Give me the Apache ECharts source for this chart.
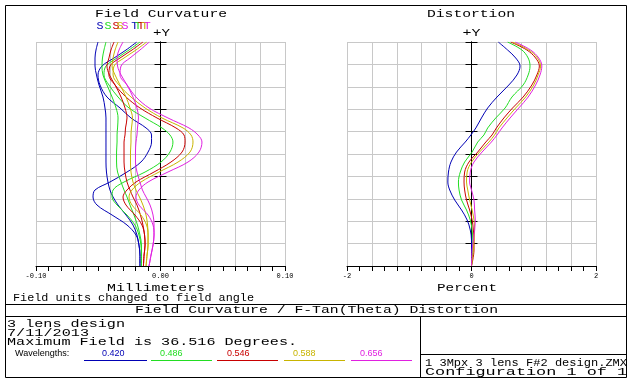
<!DOCTYPE html>
<html><head><meta charset="utf-8">
<script src="https://cdn.jsdelivr.net/npm/echarts@6/dist/echarts.min.js"></script>
<style>html,body{margin:0;padding:0;background:#fff}#c{width:638px;height:386px}</style>
</head><body><div id="c"></div>
<script>
// ---------------- data ----------------
const WAVELENGTHS = ['0.420', '0.486', '0.546', '0.588', '0.656'];
const COLORS = ['#0000b4', '#22dd22', '#c80000', '#c8b400', '#e020e0'];
const MAX_FIELD = 36.516; // degrees

const FC_X_TICKS = [-0.10, 0.00, 0.10];
const DIST_X_TICKS = [-2, 0, 2];

// field angle (deg) samples for the field curvature curves (top -> bottom)
const FC_FIELD = [36.516, 35.21, 33.91, 32.60, 31.14, 29.51, 27.55, 25.76, 24.13, 22.50, 21.36, 20.21, 18.58, 16.95, 15.32, 13.69, 12.39, 11.25, 9.94, 8.31, 6.68, 5.05, 3.42, 1.79, 0];
// sagittal / tangential focus shift (mm)
const SAG_420 = [-0.0502,-0.0518,-0.0526,-0.0526,-0.0514,-0.0494,-0.0462,-0.0446,-0.0438,-0.0438,-0.0438,-0.0438,-0.0438,-0.0438,-0.0434,-0.0422,-0.0406,-0.0381,-0.0341,-0.0277,-0.0221,-0.0189,-0.0173,-0.0165,-0.0165];
const TAN_420 = [-0.0191,-0.0277,-0.0373,-0.0470,-0.0502,-0.0486,-0.0430,-0.0325,-0.0237,-0.0116,-0.0072,-0.0072,-0.0100,-0.0157,-0.0269,-0.0406,-0.0526,-0.0542,-0.0510,-0.0389,-0.0269,-0.0197,-0.0173,-0.0165,-0.0165];
const SAG_486 = [-0.0438,-0.0454,-0.0466,-0.0470,-0.0462,-0.0430,-0.0389,-0.0357,-0.0341,-0.0345,-0.0349,-0.0349,-0.0353,-0.0353,-0.0345,-0.0317,-0.0293,-0.0269,-0.0245,-0.0213,-0.0185,-0.0165,-0.0153,-0.0153,-0.0153];
const TAN_486 = [-0.0165,-0.0253,-0.0349,-0.0438,-0.0454,-0.0414,-0.0341,-0.0253,-0.0124,0.0012,0.0076,0.0100,0.0076,0.0004,-0.0124,-0.0293,-0.0381,-0.0389,-0.0349,-0.0269,-0.0205,-0.0173,-0.0157,-0.0153,-0.0153];
const SAG_546 = [-0.0373,-0.0398,-0.0414,-0.0430,-0.0410,-0.0365,-0.0317,-0.0285,-0.0269,-0.0281,-0.0285,-0.0293,-0.0293,-0.0293,-0.0285,-0.0269,-0.0245,-0.0221,-0.0189,-0.0161,-0.0141,-0.0128,-0.0124,-0.0132,-0.0137];
const TAN_546 = [-0.0141,-0.0229,-0.0325,-0.0406,-0.0414,-0.0365,-0.0277,-0.0165,-0.0028,0.0124,0.0189,0.0197,0.0173,0.0084,-0.0052,-0.0197,-0.0269,-0.0301,-0.0277,-0.0205,-0.0149,-0.0128,-0.0124,-0.0132,-0.0137];
const SAG_588 = [-0.0341,-0.0365,-0.0381,-0.0389,-0.0365,-0.0325,-0.0277,-0.0245,-0.0225,-0.0233,-0.0237,-0.0237,-0.0241,-0.0241,-0.0237,-0.0221,-0.0197,-0.0169,-0.0141,-0.0116,-0.0104,-0.0100,-0.0100,-0.0108,-0.0116];
const TAN_588 = [-0.0111,-0.0197,-0.0293,-0.0373,-0.0381,-0.0333,-0.0237,-0.0124,0.0012,0.0181,0.0245,0.0261,0.0237,0.0141,-0.0012,-0.0157,-0.0229,-0.0253,-0.0229,-0.0157,-0.0112,-0.0100,-0.0100,-0.0108,-0.0116];
const SAG_656 = [-0.0301,-0.0333,-0.0349,-0.0345,-0.0317,-0.0269,-0.0221,-0.0189,-0.0177,-0.0185,-0.0189,-0.0197,-0.0201,-0.0201,-0.0189,-0.0165,-0.0145,-0.0116,-0.0084,-0.0060,-0.0052,-0.0052,-0.0060,-0.0076,-0.0092];
const TAN_656 = [-0.0090,-0.0165,-0.0245,-0.0317,-0.0325,-0.0269,-0.0197,-0.0092,0.0060,0.0229,0.0301,0.0333,0.0309,0.0221,0.0060,-0.0100,-0.0173,-0.0197,-0.0173,-0.0100,-0.0060,-0.0052,-0.0060,-0.0076,-0.0092];

// field angle (deg) samples for the distortion curves
const DIST_FIELD = [36.516, 35.21, 33.91, 32.60, 31.14, 29.51, 27.55, 25.76, 24.13, 22.50, 21.36, 20.21, 18.58, 16.95, 15.32, 13.69, 12.39, 10.76, 9.13, 7.50, 5.87, 4.24, 2.61, 0];
// distortion (percent)
const DIST_420 = [0.43,0.58,0.71,0.78,0.73,0.60,0.41,0.26,0.16,0.07,-0.01,-0.10,-0.24,-0.33,-0.37,-0.38,-0.35,-0.27,-0.16,-0.07,-0.02,0,0,0];
const DIST_486 = [0.58,0.81,0.91,0.94,0.91,0.83,0.65,0.54,0.39,0.26,0.20,0.10,0.01,-0.11,-0.18,-0.21,-0.20,-0.16,-0.08,-0.02,0.01,0.02,0.02,0];
const DIST_546 = [0.63,0.89,1.03,1.09,1.05,0.97,0.83,0.66,0.52,0.40,0.33,0.23,0.10,-0.04,-0.11,-0.12,-0.11,-0.08,-0.03,0.01,0.03,0.04,0.04,0];
const DIST_588 = [0.66,0.92,1.06,1.11,1.07,1.00,0.87,0.71,0.57,0.44,0.37,0.28,0.13,0.00,-0.07,-0.08,-0.06,-0.03,0.01,0.04,0.05,0.04,0.03,0];
const DIST_656 = [0.70,0.95,1.08,1.13,1.10,1.03,0.91,0.76,0.62,0.49,0.41,0.32,0.17,0.04,-0.02,-0.03,0.00,0.04,0.05,0.06,0.05,0.03,0.01,0];

const SAG = [SAG_420, SAG_486, SAG_546, SAG_588, SAG_656];
const TAN = [TAN_420, TAN_486, TAN_546, TAN_588, TAN_656];
const DIST = [DIST_420, DIST_486, DIST_546, DIST_588, DIST_656];

// ---------------- chart ----------------
const MONO = '"Liberation Mono", "DejaVu Sans Mono", monospace';
const chart = echarts.init(document.getElementById('c'), null, {renderer: 'canvas'});
const zip = (xs, ys) => xs.map((x, i) => [x, ys[i]]);
const GRID_GRAY = '#c8c8c8';

function xAxisDef(gi, min, max, interval, labels, digits) {
  return {
    type: 'value', gridIndex: gi, min, max, interval,
    axisLine: {show: true, onZero: false, lineStyle: {color: '#000', width: 1}},
    axisTick: {show: true, length: 5, lineStyle: {color: '#000'}},
    minorTick: {show: true, splitNumber: 2, length: 5, lineStyle: {color: '#000'}},
    splitLine: {show: true, lineStyle: {color: GRID_GRAY, width: 1}},
    axisLabel: {
      show: true, margin: 7, fontSize: 7, fontFamily: MONO, color: '#000',
      showMinLabel: true, showMaxLabel: true,
      formatter: v => {
        const hit = labels.find(t => Math.abs(t - v) < 1e-9);
        return hit === undefined ? '' : (Math.abs(hit) < 1e-12 ? (0).toFixed(digits) : hit.toFixed(digits));
      }
    }
  };
}
function yAxisDef(gi, side, xIdx, withGrid) {
  return {
    type: 'value', gridIndex: gi, position: side, min: 0, max: MAX_FIELD, interval: MAX_FIELD / 10,
    axisLine: {show: true, onZero: true, onZeroAxisIndex: xIdx, lineStyle: {color: '#000', width: 1}},
    axisTick: {show: true, length: 6, lineStyle: {color: '#000'}},
    axisLabel: {show: false},
    splitLine: {show: withGrid, lineStyle: {color: GRID_GRAY, width: 1}}
  };
}

const series = [];
for (let w = 0; w < WAVELENGTHS.length; w++) {
  const base = {type: 'line', showSymbol: false, symbol: 'none', smooth: 0.35, animation: false,
    lineStyle: {color: COLORS[w], width: 1}, itemStyle: {color: COLORS[w]}, z: 3 + w};
  series.push(Object.assign({}, base, {name: 'S ' + WAVELENGTHS[w], xAxisIndex: 0, yAxisIndex: 0, data: zip(SAG[w], FC_FIELD)}));
  series.push(Object.assign({}, base, {name: 'T ' + WAVELENGTHS[w], xAxisIndex: 0, yAxisIndex: 0, data: zip(TAN[w], FC_FIELD)}));
  series.push(Object.assign({}, base, {name: 'D ' + WAVELENGTHS[w], xAxisIndex: 1, yAxisIndex: 2, data: zip(DIST[w], DIST_FIELD)}));
}

const option = {
  backgroundColor: '#fff',
  animation: false,
  grid: [
    {left: 36, top: 42, width: 249, height: 224},
    {left: 347, top: 42, width: 249, height: 224}
  ],
  xAxis: [
    xAxisDef(0, -0.1, 0.1, 0.02, FC_X_TICKS, 2),
    xAxisDef(1, -2, 2, 0.4, DIST_X_TICKS, 0)
  ],
  yAxis: [
    yAxisDef(0, 'left', 0, true),
    yAxisDef(0, 'right', 0, false),
    yAxisDef(1, 'left', 1, true),
    yAxisDef(1, 'right', 1, false)
  ],
  series
};
chart.setOption(option);

// ---------------- text & frames ----------------
function mono(text, x, y, size, width, color, align) {
  const sx = width ? width / (text.length * 0.6 * size) : 1;
  return {type: 'text', x, y, scaleX: sx, silent: true, z: 20,
    style: {text, fill: color || '#000', font: size + 'px ' + MONO,
      textAlign: align || 'left', align: align || 'left',
      textVerticalAlign: 'middle', verticalAlign: 'middle'}};
}
function sans(text, x, y, size, color) {
  return {type: 'text', x, y, silent: true, z: 20,
    style: {text, fill: color || '#000', font: size + 'px "Liberation Sans", Arial, sans-serif',
      textAlign: 'left', align: 'left', textVerticalAlign: 'middle', verticalAlign: 'middle'}};
}
function line(x1, y1, x2, y2, color) {
  return {type: 'line', silent: true, z: 20, shape: {x1, y1, x2, y2}, style: {stroke: color || '#000', lineWidth: 1}};
}

const g = [];
// frames
g.push({type: 'rect', silent: true, z: 20, shape: {x: 5.5, y: 5.5, width: 621, height: 372}, style: {fill: null, stroke: '#000', lineWidth: 1}});
g.push(line(5.5, 304.5, 626.5, 304.5));
g.push(line(5.5, 316.5, 626.5, 316.5));
g.push(line(420.5, 316.5, 420.5, 377.5));
g.push(line(420.5, 354.5, 626.5, 354.5));

// titles
g.push(mono('Field Curvature', 95, 14, 11, 132));
g.push(mono('Distortion', 427, 14, 11, 88));
const fcZero = chart.convertToPixel({gridIndex: 0}, [0, MAX_FIELD]);
const dsZero = chart.convertToPixel({gridIndex: 1}, [0, MAX_FIELD]);
g.push(mono('+Y', fcZero[0] + 1, 33, 11, 17, '#000', 'center'));
g.push(mono('+Y', dsZero[0], 33, 11, 18, '#000', 'center'));

// S / T labels above the top of each field curvature curve
for (let w = 0; w < WAVELENGTHS.length; w++) {
  const ps = chart.convertToPixel({gridIndex: 0}, [SAG[w][0], FC_FIELD[0]]);
  const pt = chart.convertToPixel({gridIndex: 0}, [TAN[w][0], FC_FIELD[0]]);
  g.push(mono('S', ps[0] + 2, 26, 10, 7, COLORS[w], 'center'));
  g.push(mono('T', pt[0] - 2, 26, 10, 7, COLORS[w], 'center'));
}

// axis titles
g.push(mono('Millimeters', 107, 288, 11, 98));
g.push(mono('Percent', 437, 288, 11, 60));
g.push(mono('Field units changed to field angle', 13, 298, 10, 241));

// bottom block
g.push(mono('Field Curvature / F-Tan(Theta) Distortion', 135, 310.5, 11, 363));
g.push(mono('3 lens design', 7, 324.5, 11, 118));
g.push(mono('7/11/2013', 7, 333, 11, 82));
g.push(mono('Maximum Field is ' + MAX_FIELD.toFixed(3) + ' Degrees.', 7, 342, 11, 290));
g.push(sans('Wavelengths:', 15, 353.5, 9));
const WL_TEXT_X = [102, 160, 227, 293, 360];
const WL_LINE_X = [[84, 147], [151, 212], [217, 278], [284, 345], [351, 412]];
for (let w = 0; w < WAVELENGTHS.length; w++) {
  g.push(sans(WAVELENGTHS[w], WL_TEXT_X[w], 353.5, 9, COLORS[w]));
  g.push(line(WL_LINE_X[w][0], 360.5, WL_LINE_X[w][1], 360.5, COLORS[w]));
}
g.push(mono('1 3Mpx 3 lens F#2 design.ZMX', 425, 363, 10, 202));
g.push(mono('Configuration 1 of 1', 425, 372, 11, 202));

chart.setOption({graphic: {elements: g}});
</script>
</body></html>
